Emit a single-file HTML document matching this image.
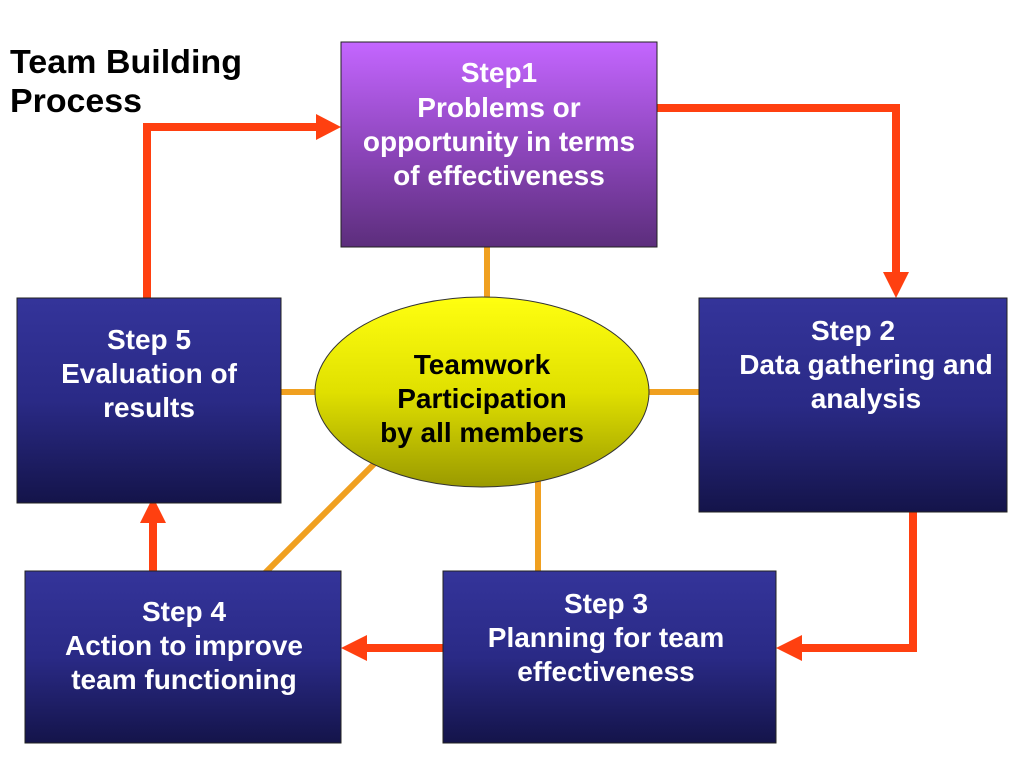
<!DOCTYPE html>
<html><head><meta charset="utf-8"><style>
html,body{margin:0;padding:0;background:#fff;}
svg{display:block;}
text{font-family:"Liberation Sans",Arial,Helvetica,sans-serif;font-weight:bold;}
</style></head><body>
<svg width="1024" height="768" viewBox="0 0 1024 768" xmlns="http://www.w3.org/2000/svg">
<defs>
<linearGradient id="p" x1="0" y1="0" x2="0" y2="1"><stop offset="0" stop-color="#c466ff"/><stop offset="0.55" stop-color="#8a44b8"/><stop offset="1" stop-color="#5c2e7c"/></linearGradient>
<linearGradient id="b" x1="0" y1="0" x2="0" y2="1"><stop offset="0" stop-color="#34349a"/><stop offset="0.5" stop-color="#2a2a86"/><stop offset="1" stop-color="#14144a"/></linearGradient>
<linearGradient id="y" x1="0" y1="0" x2="0" y2="1"><stop offset="0" stop-color="#ffff10"/><stop offset="0.5" stop-color="#e0e000"/><stop offset="1" stop-color="#9a9a00"/></linearGradient>
</defs>
<text x="10" y="73" font-size="33" fill="#000" textLength="232" lengthAdjust="spacingAndGlyphs">Team Building</text>
<text x="10" y="112" font-size="33" fill="#000" textLength="132" lengthAdjust="spacingAndGlyphs">Process</text>
<g stroke="#f0a020" stroke-width="6">
<line x1="487" y1="247" x2="487" y2="300"/>
<line x1="281" y1="392" x2="318" y2="392"/>
<line x1="646" y1="392" x2="699" y2="392"/>
<line x1="378" y1="460" x2="265" y2="573"/>
<line x1="538" y1="465" x2="538" y2="571"/>
</g>
<g fill="none" stroke="#ff4010" stroke-width="8">
<polyline points="147,298 147,127 318,127"/>
<polyline points="657,108 896,108 896,276"/>
<polyline points="913,512 913,648 798,648"/>
<line x1="443" y1="648" x2="362" y2="648"/>
<line x1="153" y1="571" x2="153" y2="522"/>
</g>
<g fill="#ff4010">
<polygon points="341,127 316,114 316,140"/>
<polygon points="896,298 883,272 909,272"/>
<polygon points="776,648 802,635 802,661"/>
<polygon points="341,648 367,635 367,661"/>
<polygon points="153,497 140,523 166,523"/>
</g>
<rect x="341" y="42" width="316" height="205" fill="url(#p)" stroke="#222" stroke-width="1"/>
<rect x="699" y="298" width="308" height="214" fill="url(#b)" stroke="#222"/>
<rect x="443" y="571" width="333" height="172" fill="url(#b)" stroke="#222"/>
<rect x="25" y="571" width="316" height="172" fill="url(#b)" stroke="#222"/>
<rect x="17" y="298" width="264" height="205" fill="url(#b)" stroke="#222"/>
<ellipse cx="482" cy="392" rx="167" ry="95" fill="url(#y)" stroke="#333"/>
<g font-size="28" fill="#fff" text-anchor="middle">
<text x="499" y="82">Step1</text>
<text x="499" y="117">Problems or</text>
<text x="499" y="151">opportunity in terms</text>
<text x="499" y="185">of effectiveness</text>
<text x="853" y="340">Step 2</text>
<text x="866" y="374">Data gathering and</text>
<text x="866" y="408">analysis</text>
<text x="606" y="613">Step 3</text>
<text x="606" y="647">Planning for team</text>
<text x="606" y="681">effectiveness</text>
<text x="184" y="621">Step 4</text>
<text x="184" y="655">Action to improve</text>
<text x="184" y="689">team functioning</text>
<text x="149" y="349">Step 5</text>
<text x="149" y="383">Evaluation of</text>
<text x="149" y="417">results</text>
</g>
<g font-size="28" fill="#000" text-anchor="middle">
<text x="482" y="374">Teamwork</text>
<text x="482" y="408">Participation</text>
<text x="482" y="442">by all members</text>
</g>
</svg>
</body></html>
